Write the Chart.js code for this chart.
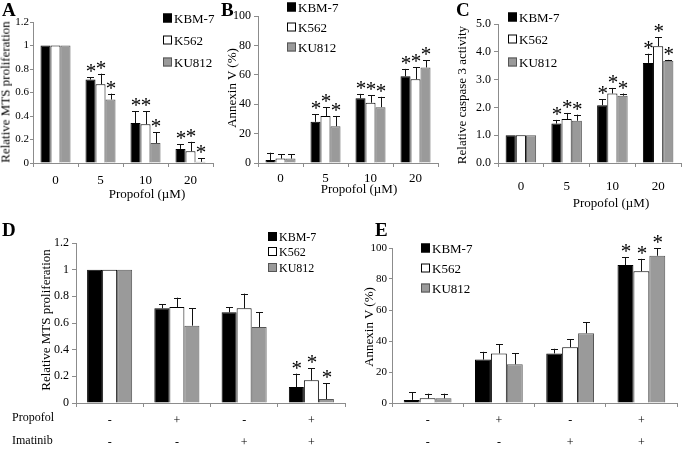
<!DOCTYPE html>
<html>
<head>
<meta charset="utf-8">
<script src="https://cdn.jsdelivr.net/npm/chart.js@4.4.1/dist/chart.umd.min.js"></script>
<style>
  body { margin: 0; background: #fff; }
  #fig { position: relative; width: 685px; height: 452px; overflow: hidden;
         font-family: "Liberation Serif", "Times New Roman", serif; color: #000; }
  canvas { position: absolute; }
  .txt { position: absolute; white-space: nowrap; line-height: 1; }
  .letter { font-weight: bold; font-size: 19px; }
  .ytitle { font-size: 13px; transform: translate(-50%, -50%) rotate(-90deg); }
  .xtitle { font-size: 13px; transform: translate(-50%, -50%); }
  .row { font-size: 12px; transform: translateY(-50%); }
  .leg { position: absolute; white-space: nowrap; font-size: 13px; line-height: 1; transform: translateY(-50%); }
  .sw { display: inline-block; width: 7px; height: 7px; border: 1px solid #000; margin-right: 2px; }
</style>
</head>
<body>
<div id="fig">
  <canvas id="chartA"></canvas>
  <canvas id="chartB"></canvas>
  <canvas id="chartC"></canvas>
  <canvas id="chartD"></canvas>
  <canvas id="chartE"></canvas>
</div>
<script>
// ---- data ----
const seriesNames = ["KBM-7", "K562", "KU812"];
const doseLabels = ["0", "5", "10", "20"];
const comboLabels = [["-", "-"], ["+", "-"], ["-", "+"], ["+", "+"]];

// A: relative MTS proliferation vs propofol dose
const kbm7A = [1, 0.71, 0.34, 0.12];
const k562A = [1, 0.67, 0.33, 0.10];
const ku812A = [1, 0.54, 0.17, 0.01];
const kbm7ErrA = [0, 0.02, 0.10, 0.04];
const k562ErrA = [0, 0.09, 0.11, 0.08];
const ku812ErrA = [0, 0.05, 0.09, 0.03];
const starsA = [false, true, true, true];

// B: annexin V (%) vs propofol dose
const kbm7B = [2, 28, 44, 59];
const k562B = [3, 32, 41, 57];
const ku812B = [3, 25, 38, 65];
const kbm7ErrB = [5, 5, 3, 5];
const k562ErrB = [3, 6, 5, 8];
const ku812ErrB = [3, 7, 7, 5];
const starsB = [false, true, true, true];

// C: relative caspase 3 activity vs propofol dose
const kbm7C = [1, 1.42, 2.08, 3.6];
const k562C = [1, 1.58, 2.5, 4.2];
const ku812C = [1, 1.52, 2.42, 3.68];
const kbm7ErrC = [0, 0.13, 0.22, 0.33];
const k562ErrC = [0, 0.22, 0.2, 0.32];
const ku812ErrC = [0, 0.22, 0.08, 0.03];
const starsC = [false, true, true, true];

// D: relative MTS proliferation, propofol / imatinib
const kbm7D = [1, 0.71, 0.68, 0.12];
const k562D = [1, 0.72, 0.71, 0.17];
const ku812D = [1, 0.58, 0.57, 0.03];
const kbm7ErrD = [0, 0.03, 0.04, 0.10];
const k562ErrD = [0, 0.07, 0.11, 0.09];
const ku812ErrD = [0, 0.13, 0.11, 0.12];
const starsD = [false, false, false, true];

// E: annexin V (%), propofol / imatinib
const kbm7E = [2, 28, 32, 89];
const k562E = [3, 32, 36, 85];
const ku812E = [3, 25, 45, 95];
const kbm7ErrE = [5, 5, 3, 5];
const k562ErrE = [3, 6, 5, 8];
const ku812ErrE = [3, 7, 7, 5];
const starsE = [false, false, false, true];

const fills = ["#000000", "#ffffff", "#9a9a9a"];
const edges = ["#000000", "#000000", "#555555"];
const axisGray = "#8c8c8c";
const serif = '"Liberation Serif", "Times New Roman", serif';

// error bars (upper half only) and significance stars
const errorBars = {
  id: "errorBars",
  afterDatasetsDraw(chart) {
    const ctx = chart.ctx;
    const y = chart.scales.y;
    ctx.save();
    chart.data.datasets.forEach((ds, i) => {
      chart.getDatasetMeta(i).data.forEach((bar, j) => {
        const top = y.getPixelForValue(ds.data[j] + ds.errors[j]);
        if (ds.errors[j] > 0) {
          ctx.strokeStyle = "#111";
          ctx.lineWidth = 1;
          ctx.beginPath();
          ctx.moveTo(Math.round(bar.x) + 0.5, bar.y);
          ctx.lineTo(Math.round(bar.x) + 0.5, top);
          ctx.moveTo(Math.round(bar.x) - 3, Math.round(top) + 0.5);
          ctx.lineTo(Math.round(bar.x) + 4, Math.round(top) + 0.5);
          ctx.stroke();
        }
        if (ds.stars[j]) {
          ctx.fillStyle = "#000";
          ctx.font = "21px " + serif;
          ctx.textAlign = "center";
          ctx.textBaseline = "alphabetic";
          ctx.fillText("*", bar.x + 0.5, top + 1);
        }
      });
    });
    ctx.restore();
  }
};

function makeDatasets(values, errors, stars, pct) {
  return values.map((v, i) => ({
    label: seriesNames[i],
    data: v,
    errors: errors[i],
    stars: stars,
    backgroundColor: fills[i],
    borderColor: edges[i],
    borderWidth: 1,
    categoryPercentage: pct,
    barPercentage: 1
  }));
}

function makeChart(id, p) {
  const cv = document.getElementById(id);
  cv.width = p.box[2];
  cv.height = p.box[3];
  cv.style.left = p.box[0] + "px";
  cv.style.top = p.box[1] + "px";
  const [ax0, ay0, ax1, ay1] = p.area;
  new Chart(cv, {
    type: "bar",
    data: { labels: p.labels, datasets: makeDatasets(p.values, p.errors, p.stars, p.pct) },
    plugins: [errorBars],
    options: {
      responsive: false,
      animation: false,
      events: [],
      layout: { padding: { left: 0, bottom: 0, top: ay0 - p.box[1], right: p.box[0] + p.box[2] - ax1 } },
      plugins: { legend: { display: false }, tooltip: { enabled: false } },
      scales: {
        x: {
          grid: { drawOnChartArea: false, tickLength: 4, color: axisGray, offset: true },
          border: { color: axisGray },
          ticks: { color: "#000", autoSkip: false, maxRotation: 0, padding: p.xPad,
                   font: { family: serif, size: p.xFont, lineHeight: p.xLine } },
          afterFit: s => { s.height = p.box[1] + p.box[3] - ay1; }
        },
        y: {
          min: 0, max: p.max,
          grid: { drawOnChartArea: false, tickLength: p.yTick, color: axisGray },
          border: { color: axisGray },
          ticks: { stepSize: p.step, autoSkip: false, color: "#000", padding: p.yPad, callback: p.fmt,
                   font: { family: serif, size: p.yFont } },
          afterFit: s => { s.width = ax0 - p.box[0]; }
        }
      }
    }
  });
}

function addText(cls, text, x, y) {
  const d = document.createElement("div");
  d.className = "txt " + cls;
  d.textContent = text;
  d.style.left = x + "px";
  d.style.top = y + "px";
  document.getElementById("fig").appendChild(d);
}

function addLegend(x, rows, size) {
  rows.forEach((y, i) => {
    const d = document.createElement("div");
    d.className = "leg";
    d.style.left = x + "px";
    d.style.top = y + "px";
    d.style.fontSize = size + "px";
    const sw = document.createElement("span");
    sw.className = "sw";
    sw.style.background = fills[i];
    sw.style.borderColor = edges[i];
    d.appendChild(sw);
    d.appendChild(document.createTextNode(seriesNames[i]));
    document.getElementById("fig").appendChild(d);
  });
}

const plain = v => String(Math.round(v * 10) / 10);
const oneDec = v => v.toFixed(1);

makeChart("chartA", {
  box: [0, 0, 228, 200], area: [33, 22, 213, 163], labels: doseLabels,
  values: [kbm7A, k562A, ku812A], errors: [kbm7ErrA, k562ErrA, ku812ErrA], stars: starsA,
  max: 1.2, step: 0.2, fmt: plain, pct: 0.667, xPad: 6, xFont: 13, xLine: 1.2,
  yFont: 11, yPad: 1, yTick: 3
});
makeChart("chartB", {
  box: [228, 0, 225, 200], area: [258, 16, 438, 163], labels: doseLabels,
  values: [kbm7B, k562B, ku812B], errors: [kbm7ErrB, k562ErrB, ku812ErrB], stars: starsB,
  max: 100, step: 20, fmt: plain, pct: 0.667, xPad: 4, xFont: 13, xLine: 1.2,
  yFont: 12, yPad: 3, yTick: 4
});
makeChart("chartC", {
  box: [455, 0, 230, 210], area: [498, 24, 681, 163], labels: doseLabels,
  values: [kbm7C, k562C, ku812C], errors: [kbm7ErrC, k562ErrC, ku812ErrC], stars: starsC,
  max: 5, step: 1, fmt: oneDec, pct: 0.667, xPad: 12, xFont: 13, xLine: 1.2,
  yFont: 12, yPad: 3, yTick: 4
});
makeChart("chartD", {
  box: [0, 220, 370, 232], area: [76, 243, 345, 403], labels: comboLabels,
  values: [kbm7D, k562D, ku812D], errors: [kbm7ErrD, k562ErrD, ku812ErrD], stars: starsD,
  max: 1.2, step: 0.2, fmt: plain, pct: 0.67, xPad: 3, xFont: 12, xLine: "22px",
  yFont: 12, yPad: 3, yTick: 4
});
makeChart("chartE", {
  box: [370, 220, 315, 232], area: [392, 248, 677, 403], labels: comboLabels,
  values: [kbm7E, k562E, ku812E], errors: [kbm7ErrE, k562ErrE, ku812ErrE], stars: starsE,
  max: 100, step: 20, fmt: plain, pct: 0.67, xPad: 3, xFont: 12, xLine: "22px",
  yFont: 11, yPad: 2, yTick: 3
});

// panel letters
addText("letter", "A", 2, 0);
addText("letter", "B", 221, 0);
addText("letter", "C", 456, 0);
addText("letter", "D", 2, 220);
addText("letter", "E", 375, 220);

// axis titles
addText("ytitle", "Relative MTS proliferation", 4.5, 92);
addText("ytitle", "Annexin V (%)", 231, 88);
addText("ytitle", "Relative caspase 3 activity", 461, 95);
addText("ytitle", "Relative MTS proliferation", 45, 320);
addText("ytitle", "Annexin V (%)", 368, 327);
addText("xtitle", "Propofol (\u00b5M)", 147, 193);
addText("xtitle", "Propofol (\u00b5M)", 359, 188);
addText("xtitle", "Propofol (\u00b5M)", 611, 202);
addText("row", "Propofol", 12, 417);
addText("row", "Imatinib", 12, 440);

// legends
addLegend(163, [18, 40, 62], 13);
addLegend(287, [7, 27, 47], 13);
addLegend(508, [17, 39, 62], 13);
addLegend(268, [237, 252, 268], 12);
addLegend(421, [248, 268, 288], 13);
</script>
</body>
</html>
